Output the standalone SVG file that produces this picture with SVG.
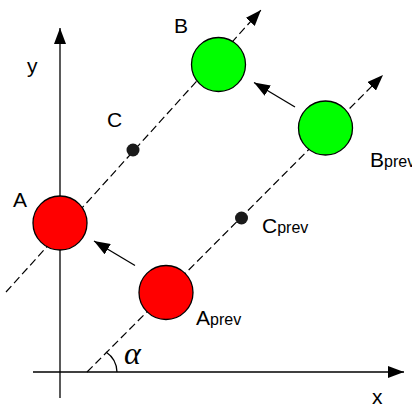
<svg xmlns="http://www.w3.org/2000/svg" width="412" height="405" viewBox="0 0 412 405">
<defs>
<marker id="ah" viewBox="0 0 16 12" refX="16" refY="6" markerWidth="16" markerHeight="12" markerUnits="userSpaceOnUse" orient="auto">
<path d="M0,0 L16,6 L0,12 Z" fill="#000" stroke="none"/>
</marker>
<style>
.axis{stroke:#000;stroke-width:1.3;fill:none}
.dash{stroke:#000;stroke-width:1.2;fill:none;stroke-dasharray:8,4}
.arr{stroke:#000;stroke-width:1.3;fill:none}
.red{fill:#ff0000;stroke:#000;stroke-width:1.3}
.green{fill:#00ff00;stroke:#000;stroke-width:1.3}
.dot{fill:#1a1a1a;stroke:none}
.lbl{font-family:"Liberation Sans",Arial,sans-serif;font-size:21px;fill:#000}
.sub{font-size:16px}
.greek{font-family:"Liberation Serif","Times New Roman",serif;font-style:italic;font-size:32px;fill:#000}
</style>
</defs>
<g id="connectors">
<line class="axis" x1="60" y1="398" x2="60" y2="28" marker-end="url(#ah)"/>
<line class="axis" x1="33" y1="372" x2="404" y2="372" marker-end="url(#ah)"/>
<line class="dash" x1="6" y1="292" x2="261" y2="10" marker-end="url(#ah)"/>
<line class="dash" x1="87" y1="372" x2="383" y2="75" marker-end="url(#ah)"/>
<line class="arr" x1="135" y1="265.5" x2="94" y2="241" marker-end="url(#ah)"/>
<line class="arr" x1="295" y1="107" x2="254" y2="82.5" marker-end="url(#ah)"/>
<path class="axis" d="M106,352 A25,25 0 0 1 117,372"/>
</g>
<g id="A"><circle class="red" cx="60" cy="223" r="27"/><text class="lbl" x="13" y="207">A</text></g>
<g id="Aprev"><circle class="red" cx="166" cy="292.5" r="27"/><text class="lbl" x="196" y="325">A<tspan class="sub">prev</tspan></text></g>
<g id="B"><circle class="green" cx="218.5" cy="64.5" r="27"/><text class="lbl" x="174" y="33">B</text></g>
<g id="Bprev"><circle class="green" cx="325.5" cy="128" r="27"/><text class="lbl" x="370" y="167">B<tspan class="sub">prev</tspan></text></g>
<g id="C"><circle class="dot" cx="133" cy="150" r="6.5"/><text class="lbl" x="107" y="127">C</text></g>
<g id="Cprev"><circle class="dot" cx="241.5" cy="218" r="6.5"/><text class="lbl" x="262" y="233">C<tspan class="sub">prev</tspan></text></g>
<g id="labels">
<text class="lbl" x="27" y="73">y</text>
<text class="lbl" x="372" y="404">x</text>
<text class="greek" x="124" y="364">α</text>
</g>
</svg>
